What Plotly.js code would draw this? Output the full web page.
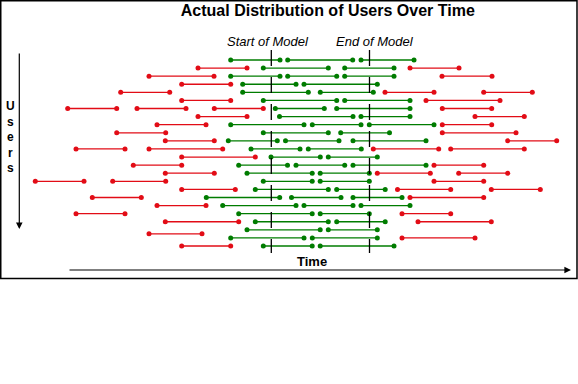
<!DOCTYPE html>
<html><head><meta charset="utf-8">
<script src="https://cdn.plot.ly/plotly-3.0.1.min.js"></script>
<style>html,body{margin:0;padding:0;background:#fff}#chart{width:578px;height:384px}</style>
</head><body><div id="chart"></div>
<script>
// ---- Data: each user's sessions (time units), row = user ----
// Sessions lying (mostly) outside the model window
const redUser  = [2,2, 3,3, 4, 5,5,5, 6,6, 7,7,7,7, 8,8, 9,9, 10,10, 11,11, 12,12,12,12, 13, 14,14, 15,15,15, 16,16,16, 17,17,17, 18,18, 19, 20,20, 21,21, 22.5, 23, 24];
const redStart = [198,410, 149,442, 181.7, 120.7,385,483.7, 181.7,426, 67.7,137,214.3,442.3, 198,475, 157,442.3, 116.7,442.3, 165.3,507.7, 76,149,373.3,450.7, 181.7, 133.3,434, 165.3,377.3,458.7, 35.3,112.7,434, 181.7,397.5,491.3, 92.3,410, 157, 76,402, 165.3,418, 149, 402, 181.7];
const redEnd   = [247,459, 214,492, 230.7, 169.7,434,532.3, 230.7,500, 116.7,186,263.3,491.7, 247,524.3, 206,491.7, 165.7,516, 214.3,556.7, 125,222.7,438.7,524.3, 255.3, 181.7,483.7, 214.3,430.3,507.7, 84,165.7,483.7, 235.3,450.7,540.3, 141.3,483.7, 206, 125,450.7, 238.7,491.3, 202, 475, 230.7];
// Sessions overlapping the model window
const greenUser  = [1,1,1, 2,2, 3,3,3, 4,4, 5,5, 6,6, 7,7, 8,8, 9,9,9, 10,10, 11,11,11, 12,12, 13,13, 14,14,14, 15,15, 16,16, 17,17, 18,18,18, 19,19,19, 20,20, 21,21, 22,22, 23,23, 24,24];
const greenStart = [230.7,287.7,361, 263.3,344.7, 230.7,287.7,344.7, 242.7,304, 242.7,320.3, 263.3,344.7, 275.3,336.7, 279.5,361, 230.7,312.3,369.3, 263.3,340.7, 228.3,285.5,353, 251,308.3, 271,328.3, 238.7,296,353, 247,320.2, 263.3,320.2, 255.3,336.7, 206.3,291.5,353, 222.7,304,361, 238.7,320.2, 255.3,336.7, 247,328.3, 230.7,312.3, 263.3,320.2];
const greenEnd   = [280,352.7,414, 328.3,394, 280,336.7,394, 296,377.3, 308.3,373.3, 336.7,410, 324.3,410, 353,410, 304,361,434, 328.3,389.5, 277.3,339,426, 300,361.3, 320.3,377.3, 287.5,344.7,426, 312.2,369.3, 312.2,369.3, 328.3,385.2, 279.7,341,402, 296,353,410, 312.2,369.3, 328.3,385.2, 320.2,377.3, 304,377.3, 312.2,394];
const modelStart = 271.3;
const modelEnd   = 369.5;

const W = 578, H = 384;
const px = v => v / W;          // pixel -> paper x
const py = v => 1 - v / H;      // pixel -> paper y
const FONT = 'Liberation Sans, Arial, sans-serif';
const RED = 'rgb(226,12,22)', GREEN = 'rgb(0,124,0)';

function segTrace(users, starts, ends, color) {
  const x = [], y = [];
  for (let i = 0; i < users.length; i++) {
    x.push(starts[i], ends[i], null);
    y.push(users[i], users[i], null);
  }
  return {type:'scatter', mode:'lines+markers', x, y, connectgaps:false,
    line:{color, width:1.3}, marker:{color, size:5}, hoverinfo:'skip', showlegend:false};
}

const data = [segTrace(redUser, redStart, redEnd, RED), segTrace(greenUser, greenStart, greenEnd, GREEN)];

const rowPx = 8.087, row1Px = 60;
const yTop = 1 - row1Px / rowPx, yBot = 1 + (H - row1Px) / rowPx;

const vline = xv => ({type:'line', xref:'x', yref:'paper', x0:xv, x1:xv, y0:py(50), y1:py(253),
  line:{color:'black', width:1.3, dash:'16px,11px'}});

const layout = {
  width: W, height: H,
  margin: {l:0, r:0, t:0, b:0},
  paper_bgcolor:'#fff', plot_bgcolor:'#fff',
  font: {family: FONT, color:'#000'},
  title: {text:'<b>Actual Distribution of Users Over Time</b>', font:{family:FONT, size:16, color:'#000'},
          x: px(327.8), xanchor:'center', y: py(10.5), yanchor:'middle', xref:'paper', yref:'container'},
  xaxis: {range:[0, W], showgrid:false, zeroline:false, showticklabels:false, showline:false, ticks:'', fixedrange:true},
  yaxis: {range:[yBot, yTop], showgrid:false, zeroline:false, showticklabels:false, showline:false, ticks:'', fixedrange:true},
  shapes: [
    {type:'rect', xref:'paper', yref:'paper', x0:px(0.75), x1:px(577), y0:py(0.75), y1:py(278.5), line:{color:'black', width:1.5}},
    vline(modelStart), vline(modelEnd)
  ],
  annotations: [
    {text:'<i>Start of Model</i>', xref:'paper', yref:'paper', x:px(267.5), y:py(41.5), xanchor:'center', yanchor:'middle', showarrow:false, font:{size:13, family:FONT}},
    {text:'<i>End of Model</i>', xref:'paper', yref:'paper', x:px(374.5), y:py(41.5), xanchor:'center', yanchor:'middle', showarrow:false, font:{size:13, family:FONT}},
    {text:'<b>Time</b>', xref:'paper', yref:'paper', x:px(312), y:py(261.5), xanchor:'center', yanchor:'middle', showarrow:false, font:{size:13, family:FONT}},
    {text:'<b>U<br>s<br>e<br>r<br>s</b>', xref:'paper', yref:'paper', x:px(10.5), y:py(137), xanchor:'center', yanchor:'middle', showarrow:false, font:{size:12, family:FONT}},
    {text:'', xref:'paper', yref:'paper', x:px(19.3), y:py(229), ax:0, ay:-177, showarrow:true, arrowhead:2, arrowsize:1.1, arrowwidth:1.2, arrowcolor:'black', standoff:0},
    {text:'', xref:'paper', yref:'paper', x:px(571), y:py(270), ax:-503, ay:0, showarrow:true, arrowhead:2, arrowsize:1.1, arrowwidth:1.2, arrowcolor:'black', standoff:0}
  ]
};

Plotly.newPlot('chart', data, layout, {displayModeBar:false, staticPlot:true});
</script>
</body></html>
